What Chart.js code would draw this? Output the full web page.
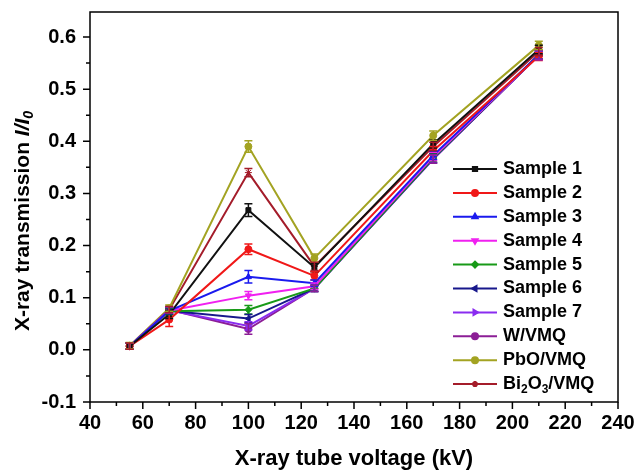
<!DOCTYPE html>
<html>
<head>
<meta charset="utf-8">
<script src="https://cdn.jsdelivr.net/npm/chart.js@4.4.1/dist/chart.umd.min.js"></script>
<style>
  html, body { margin: 0; padding: 0; background: #fff; }
  #wrap { width: 638px; height: 474px; }
</style>
</head>
<body>
<div id="wrap"><canvas id="chart" width="638" height="474"></canvas></div>
<script>
// X-ray tube voltage (kV)
const voltages = [55, 70, 100, 125, 170, 210];

// transmission I/I0 per sample
const sample1 = [0.007, 0.068, 0.268, 0.158, 0.395, 0.576];
const sample2 = [0.007, 0.058, 0.193, 0.142, 0.382, 0.563];
const sample3 = [0.007, 0.075, 0.140, 0.128, 0.373, 0.566];
const sample4 = [0.007, 0.075, 0.104, 0.122, 0.370, 0.565];
const sample5 = [0.007, 0.074, 0.077, 0.118, 0.368, 0.566];
const sample6 = [0.007, 0.075, 0.060, 0.118, 0.367, 0.565];
const sample7 = [0.007, 0.076, 0.046, 0.118, 0.366, 0.565];
const wvmq    = [0.007, 0.077, 0.040, 0.118, 0.366, 0.566];
const pbo     = [0.008, 0.080, 0.390, 0.176, 0.411, 0.584];
const bi2o3   = [0.007, 0.077, 0.340, 0.160, 0.390, 0.572];

// error bars (+/-)
const err1  = [0.006, 0.008, 0.012, 0.008, 0.008, 0.008];
const err2  = [0.006, 0.013, 0.010, 0.008, 0.008, 0.008];
const err3  = [0.006, 0.006, 0.012, 0.006, 0.008, 0.008];
const err4  = [0.006, 0.006, 0.008, 0.006, 0.008, 0.008];
const err5  = [0.006, 0.006, 0.008, 0.006, 0.008, 0.008];
const err6  = [0.006, 0.006, 0.008, 0.006, 0.008, 0.008];
const err7  = [0.006, 0.006, 0.008, 0.006, 0.008, 0.008];
const errW  = [0.006, 0.006, 0.010, 0.006, 0.008, 0.008];
const errPb = [0.006, 0.006, 0.011, 0.008, 0.009, 0.008];
const errBi = [0.006, 0.006, 0.008, 0.008, 0.008, 0.008];

const xTicks = [40, 60, 80, 100, 120, 140, 160, 180, 200, 220, 240];
const yTicks = [-0.1, 0.0, 0.1, 0.2, 0.3, 0.4, 0.5, 0.6];

const FONT = '"Liberation Sans", Arial, sans-serif';

function series(label, values, errs, color, style, rotation) {
    return {
        label: label,
        data: voltages.map((v, i) => ({ x: v, y: values[i] })),
        errs: errs,
        borderColor: color,
        backgroundColor: color,
        borderWidth: 2,
        pointStyle: style,
        pointRotation: rotation || 0,
        pointRadius: 3.5,
        pointBorderWidth: 1,
        pointHoverRadius: 3.5,
        tension: 0
    };
}

const datasets = [
    series('Sample 1', sample1, err1, '#111111', 'rect'),
    series('Sample 2', sample2, err2, '#f01818', 'circle'),
    series('Sample 3', sample3, err3, '#1a1aee', 'triangle'),
    series('Sample 4', sample4, err4, '#f020f0', 'triangle', 180),
    series('Sample 5', sample5, err5, '#189a18', 'rectRot'),
    series('Sample 6', sample6, err6, '#18188c', 'triangle', -90),
    series('Sample 7', sample7, err7, '#8a2cf0', 'triangle', 90),
    series('W/VMQ', wvmq, errW, '#8c1e96', 'circle'),
    series('PbO/VMQ', pbo, errPb, '#a3a322', 'circle'),
    series('Bi2O3/VMQ', bi2o3, errBi, '#a41c2a', 'star')
];

// legend label pieces: [text, subscript?]
const legendParts = {
    'Bi2O3/VMQ': [['Bi', false], ['2', true], ['O', false], ['3', true], ['/VMQ', false]]
};

function isMult(v, step) {
    return Math.abs(v / step - Math.round(v / step)) < 1e-6;
}

const decorPlugin = {
    id: 'decor',
    afterDatasetsDraw(chart) {
        const ctx = chart.ctx;
        const xs = chart.scales.x, ys = chart.scales.y;
        chart.data.datasets.forEach((ds) => {
            ctx.save();
            ctx.strokeStyle = ds.borderColor;
            ctx.lineWidth = 1.5;
            ds.data.forEach((p, i) => {
                const e = ds.errs[i];
                const px = xs.getPixelForValue(p.x);
                const y1 = ys.getPixelForValue(p.y + e);
                const y2 = ys.getPixelForValue(p.y - e);
                ctx.beginPath();
                ctx.moveTo(px, y1); ctx.lineTo(px, y2);
                ctx.moveTo(px - 4, y1); ctx.lineTo(px + 4, y1);
                ctx.moveTo(px - 4, y2); ctx.lineTo(px + 4, y2);
                ctx.stroke();
            });
            ctx.restore();
        });
    },
    afterDraw(chart) {
        const ctx = chart.ctx;
        const a = chart.chartArea;
        const xs = chart.scales.x, ys = chart.scales.y;
        ctx.save();
        // frame
        ctx.strokeStyle = '#000';
        ctx.lineWidth = 1.5;
        ctx.strokeRect(a.left, a.top, a.right - a.left, a.bottom - a.top);
        // ticks (major + minor, outward)
        ctx.beginPath();
        for (let v = 40; v <= 240.001; v += 10) {
            const px = xs.getPixelForValue(v);
            const len = isMult(v, 20) ? 7 : 4;
            ctx.moveTo(px, a.bottom); ctx.lineTo(px, a.bottom + len);
        }
        for (let k = -2; k <= 12; k++) {
            const py = ys.getPixelForValue(k * 0.05);
            const len = (k % 2 === 0) ? 7 : 4;
            ctx.moveTo(a.left, py); ctx.lineTo(a.left - len, py);
        }
        ctx.stroke();

        // axis titles
        ctx.fillStyle = '#000';
        ctx.textBaseline = 'middle';
        ctx.textAlign = 'center';
        ctx.font = 'bold 22px ' + FONT;
        ctx.fillText('X-ray tube voltage (kV)', (a.left + a.right) / 2, 459);

        ctx.save();
        ctx.translate(23, 221);
        ctx.rotate(-Math.PI / 2);
        ctx.textAlign = 'left';
        const partA = 'X-ray transmission ';
        const partB = 'I/I';
        const partC = '0';
        ctx.font = 'bold 21px ' + FONT;
        const wA = ctx.measureText(partA).width;
        ctx.font = 'italic bold 21px ' + FONT;
        const wB = ctx.measureText(partB).width;
        ctx.font = 'italic bold 14px ' + FONT;
        const wC = ctx.measureText(partC).width;
        const x0 = -(wA + wB + wC) / 2;
        ctx.font = 'bold 21px ' + FONT;
        ctx.fillText(partA, x0, 0);
        ctx.font = 'italic bold 21px ' + FONT;
        ctx.fillText(partB, x0 + wA, 0);
        ctx.font = 'italic bold 14px ' + FONT;
        ctx.fillText(partC, x0 + wA + wB, 6);
        ctx.restore();

        // legend
        const lx1 = 453, lx2 = 497, tx = 503, ly0 = 169, step = 23.9;
        chart.data.datasets.forEach((ds, i) => {
            const y = ly0 + i * step;
            ctx.strokeStyle = ds.borderColor;
            ctx.lineWidth = 2;
            ctx.beginPath();
            ctx.moveTo(lx1, y); ctx.lineTo(lx2, y);
            ctx.stroke();
            ctx.fillStyle = ds.borderColor;
            Chart.helpers.drawPoint(ctx, {
                pointStyle: ds.pointStyle, radius: 3, rotation: ds.pointRotation, borderWidth: 1
            }, (lx1 + lx2) / 2, y);
            ctx.fillStyle = '#000';
            ctx.textAlign = 'left';
            ctx.textBaseline = 'middle';
            const parts = legendParts[ds.label] || [[ds.label, false]];
            let x = tx;
            parts.forEach(p => {
                ctx.font = (p[1] ? 'bold 12px ' : 'bold 18px ') + FONT;
                ctx.fillText(p[0], x, p[1] ? y + 6 : y);
                x += ctx.measureText(p[0]).width;
            });
        });
        ctx.restore();
    }
};

new Chart(document.getElementById('chart').getContext('2d'), {
    type: 'line',
    data: { datasets: datasets },
    options: {
        responsive: false,
        animation: false,
        layout: { padding: { left: 0, right: 20, top: 12, bottom: 0 } },
        plugins: {
            legend: { display: false },
            tooltip: { enabled: false }
        },
        scales: {
            x: {
                type: 'linear',
                min: 40,
                max: 240,
                afterBuildTicks: s => { s.ticks = xTicks.map(v => ({ value: v })); },
                afterFit: s => { s.height = 72; s.paddingLeft = 0; s.paddingRight = 0; },
                grid: { display: false, drawTicks: false },
                border: { display: false },
                ticks: {
                    padding: 9,
                    color: '#000',
                    font: { family: FONT, size: 20, weight: 'bold' },
                    maxRotation: 0,
                    callback: v => String(v)
                }
            },
            y: {
                min: -0.1,
                max: 0.648,
                afterBuildTicks: s => { s.ticks = yTicks.map(v => ({ value: v })); },
                afterFit: s => { s.width = 90; s.paddingTop = 0; s.paddingBottom = 0; },
                grid: { display: false, drawTicks: false },
                border: { display: false },
                ticks: {
                    padding: 14,
                    color: '#000',
                    font: { family: FONT, size: 20, weight: 'bold' },
                    callback: v => v.toFixed(1)
                }
            }
        }
    },
    plugins: [decorPlugin]
});
</script>
</body>
</html>
